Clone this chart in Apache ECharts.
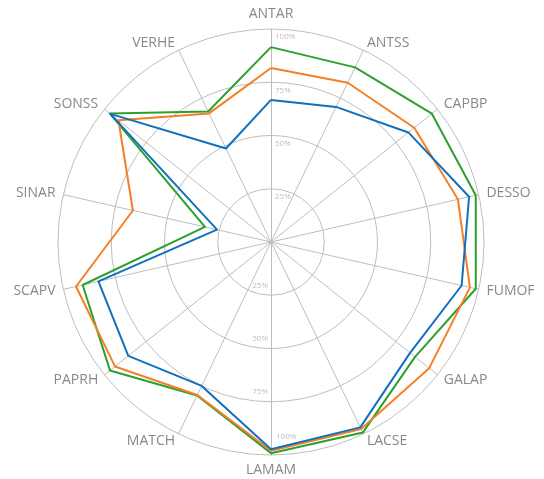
<!DOCTYPE html>
<html>
<head>
<meta charset="utf-8">
<script src="https://cdn.jsdelivr.net/npm/echarts@6/dist/echarts.min.js"></script>
<style>
html, body { margin: 0; padding: 0; background: #fff; }
#chart { width: 544px; height: 479px; }
</style>
</head>
<body>
<div id="chart"></div>
<script>
// categories, clockwise from the top
var categories = ['ANTAR','ANTSS','CAPBP','DESSO','FUMOF','GALAP','LACSE','LAMAM','MATCH','PAPRH','SCAPV','SINAR','SONSS','VERHE'];
var scaleTicks = [25, 50, 75, 100];
var blueValues   = [66.7, 70.4, 82.5, 95.4, 91.8, 83.5, 96.6, 97.3, 75.0, 85.7, 83.1, 26.0, 96.5, 48.7];
var orangeValues = [81.7, 83.0, 86.0, 90.0, 95.8, 95.0, 97.4, 98.0, 79.7, 93.7, 93.9, 66.5, 91.6, 67.0];
var greenValues  = [91.5, 91.0, 96.6, 98.6, 98.6, 86.5, 99.3, 99.2, 80.0, 96.7, 90.7, 31.8, 96.7, 68.0];

var maxTick = scaleTicks[scaleTicks.length - 1];

// echarts lays the radar out counter-clockwise, so flip everything after the first axis
function flip(arr) {
    return [arr[0]].concat(arr.slice(1).reverse());
}

var indicators = flip(categories).map(function (name) {
    var ind = { name: name, min: 0, max: maxTick };
    // tick labels only on the vertical axis: right of it going up, left of it going down
    if (name === 'ANTAR') {
        ind.axisLabel = { show: true, margin: -4, align: 'left', verticalAlign: 'top', padding: [4, 0, 0, 0] };
    } else if (name === 'LAMAM') {
        ind.axisLabel = {
            show: true, margin: -3, align: 'right', verticalAlign: 'bottom', padding: [0, 0, 6, 0],
            // the outer one sits on the other side of the axis (drawn below as graphic)
            formatter: function (v) { return (v === 0 || v === maxTick) ? '' : v + '%'; }
        };
    }
    return ind;
});

var option = {
    animation: false,
    radar: {
        center: [271, 242],
        radius: 213,
        shape: 'circle',
        splitNumber: scaleTicks.length,
        indicator: indicators,
        axisName: {
            color: '#888888',
            fontSize: 14,
            fontFamily: 'Open Sans'
        },
        nameGap: 8,
        axisLine: { lineStyle: { color: '#bdbdbd', width: 1 } },
        splitLine: { lineStyle: { color: '#bdbdbd', width: 1 } },
        splitArea: { show: false },
        axisTick: { show: false },
        axisLabel: {
            show: false,
            color: '#bdbdbd',
            fontSize: 8,
            fontFamily: 'Open Sans',
            showMinLabel: false,
            formatter: function (v) { return v === 0 ? '' : v + '%'; }
        }
    },
    graphic: [{
        type: 'text',
        left: 276,
        top: 433,
        style: {
            text: maxTick + '%',
            fill: '#bdbdbd',
            font: '8px "Open Sans"'
        }
    }],
    series: [{
        type: 'radar',
        symbol: 'none',
        data: [
            { name: 'green', value: flip(greenValues), lineStyle: { color: '#2ca02c', width: 2 } },
            { name: 'orange', value: flip(orangeValues), lineStyle: { color: '#f47f26', width: 2 } },
            { name: 'blue', value: flip(blueValues), lineStyle: { color: '#1070bd', width: 2 } }
        ]
    }]
};

var chart = echarts.init(document.getElementById('chart'));
chart.setOption(option);
</script>
</body>
</html>
